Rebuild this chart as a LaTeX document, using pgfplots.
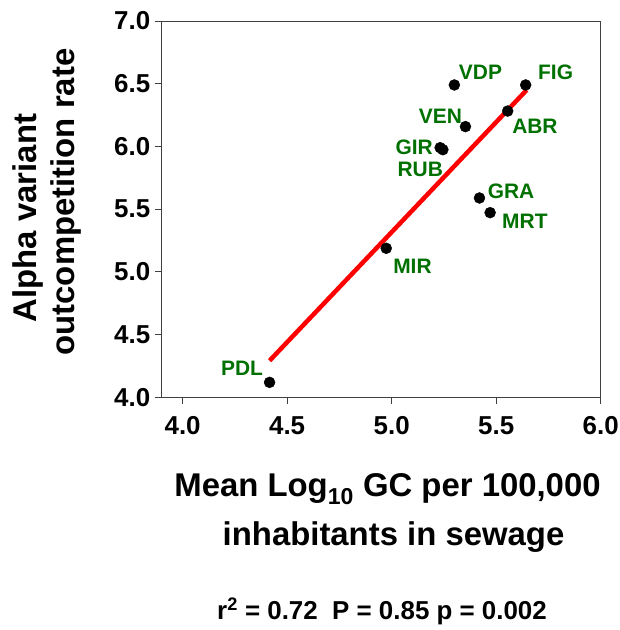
\documentclass[border=0pt]{standalone}
\usepackage{pgfplots}
\pgfplotsset{compat=1.18}
\usepackage{fontspec}
\setmainfont{Liberation Sans}
\definecolor{lblgreen}{RGB}{0,112,0}
\newcommand\fs[1]{\fontsize{#1}{#1}\selectfont\bfseries}
\tikzset{lbl/.style={font=\fs{21}, text=lblgreen, inner sep=0pt}}
\begin{document}
\begin{tikzpicture}[x=1bp,y=1bp]
\useasboundingbox (-161.7,-232.7) rectangle (458.3,397.3);
\begin{axis}[
  at={(0,0)}, anchor=south west,
  scale only axis, width=439bp, height=376.3bp,
  xmin=3.9, xmax=6.0, ymin=4.0, ymax=7.0,
  xtick={4.0,4.5,5.0,5.5,6.0},
  ytick={4.0,4.5,5.0,5.5,6.0,6.5,7.0},
  xtick pos=bottom, ytick pos=left,
  tick align=outside, major tick length=7bp,
  axis line style={line width=0.8bp, black!75},
  tick style={line width=0.8bp, black!75},
  tick label style={font=\fs{26}},
  xticklabel style={yshift=-9bp},
  yticklabel style={xshift=-1bp},
  /pgf/number format/fixed, /pgf/number format/fixed zerofill,
  /pgf/number format/precision=1, /pgf/number format/assume math mode=true,
  clip=false,
]
% regression line
\addplot[red, line width=4.5bp] coordinates {(4.416,4.292) (5.646,6.450)};
% sites
\addplot[only marks, mark=*, mark size=5.5bp, black] coordinates {
  (4.416,4.119) (4.974,5.188) (5.232,5.990) (5.245,5.974) (5.300,6.490)
  (5.353,6.158) (5.420,5.589) (5.471,5.472) (5.555,6.282) (5.641,6.490)};
\node[lbl, anchor=base west] at (axis cs:5.321,6.530) {VDP};
\node[lbl, anchor=base west] at (axis cs:5.700,6.530) {FIG};
\node[lbl, anchor=base west] at (axis cs:5.576,6.105) {ABR};
\node[lbl, anchor=base east] at (axis cs:5.337,6.184) {VEN};
\node[lbl, anchor=base east] at (axis cs:5.198,5.932) {GIR};
\node[lbl, anchor=base east] at (axis cs:5.246,5.759) {RUB};
\node[lbl, anchor=base west] at (axis cs:5.459,5.586) {GRA};
\node[lbl, anchor=base west] at (axis cs:5.528,5.347) {MRT};
\node[lbl, anchor=base west] at (axis cs:5.007,4.983) {MIR};
\node[lbl, anchor=base east] at (axis cs:4.385,4.170) {PDL};
\end{axis}
\node[rotate=90, anchor=base, font=\fs{33}] at (-124.7,179.3) {Alpha variant};
\node[rotate=90, anchor=base, font=\fs{33}] at (-86.7,195.3) {outcompetition rate};
\node[anchor=base, font=\fs{33}] at (225.8,-99.7) {Mean Log\textsubscript{10} GC per 100,000};
\node[anchor=base, font=\fs{33}] at (231.8,-147.7) {inhabitants in sewage};
\node[anchor=base, font=\fs{26}] at (220.3,-221.7) {r\textsuperscript{2} = 0.72\ \ P = 0.85 p = 0.002};
\end{tikzpicture}
\end{document}
